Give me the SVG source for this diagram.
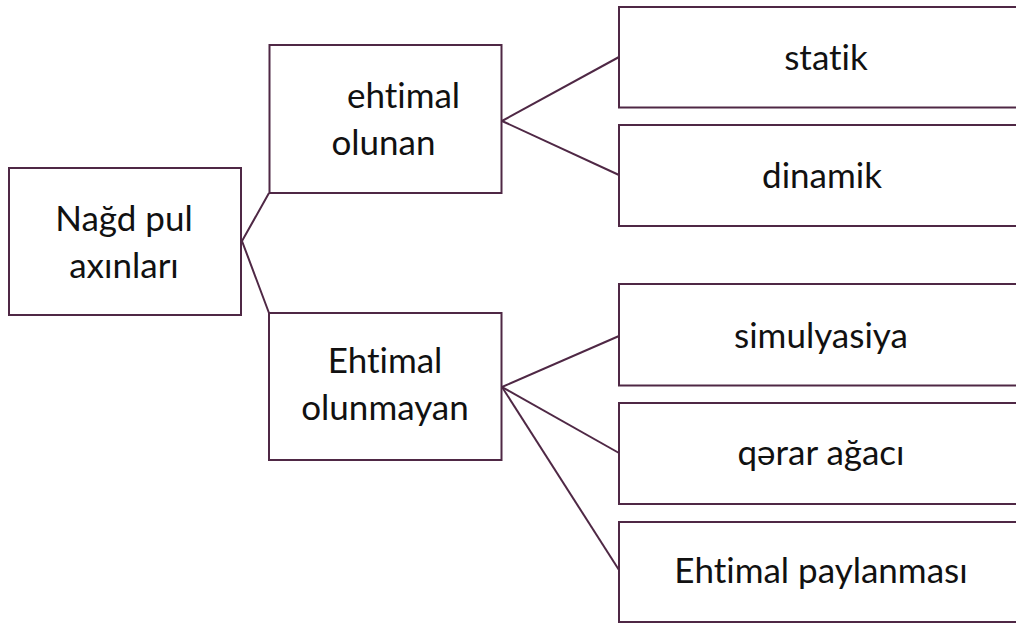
<svg xmlns="http://www.w3.org/2000/svg" width="1016" height="623" viewBox="0 0 1016 623">
<style>
.box{fill:#fff;stroke:#4f2845;stroke-width:2}
.ln{fill:none;stroke:#4f2845;stroke-width:2}
text{font-family:Lato,"Liberation Sans",sans-serif;font-size:35px;fill:#111;text-anchor:middle;font-variant-ligatures:none;font-feature-settings:"liga" 0,"clig" 0,"dlig" 0}
</style>
<rect width="1016" height="623" fill="#fff"/>
<g id="connectors">
<polyline class="ln" points="269,193 242,241 269,313"/>
<line class="ln" x1="502" y1="121" x2="619" y2="57"/>
<line class="ln" x1="502" y1="121" x2="619" y2="175"/>
<line class="ln" x1="502" y1="387" x2="619" y2="336"/>
<line class="ln" x1="502" y1="387" x2="619" y2="453"/>
<line class="ln" x1="502" y1="387" x2="619" y2="570"/>
</g>
<g id="root">
<rect class="box" x="9" y="168" width="232" height="147"/>
<text x="124" y="231">Nağd pul</text>
<text x="124" y="278">axınları</text>
</g>
<g id="n-ehtimal-olunan">
<rect class="box" x="269.5" y="45" width="232" height="148"/>
<text x="403.5" y="108">ehtimal</text>
<text x="383.5" y="155">olunan</text>
</g>
<g id="n-ehtimal-olunmayan">
<rect class="box" x="269" y="313" width="232.5" height="147"/>
<text x="385" y="373">Ehtimal</text>
<text x="385" y="420">olunmayan</text>
</g>
<g id="n-statik">
<rect class="box" x="619" y="7" width="420" height="100.5"/>
<text x="826" y="70">statik</text>
</g>
<g id="n-dinamik">
<rect class="box" x="619" y="125" width="420" height="101"/>
<text x="822" y="188">dinamik</text>
</g>
<g id="n-simulyasiya">
<rect class="box" x="619" y="284" width="420" height="101.5"/>
<text x="821" y="348">simulyasiya</text>
</g>
<g id="n-qerar">
<rect class="box" x="619" y="403" width="420" height="101"/>
<text x="821" y="465">qərar ağacı</text>
</g>
<g id="n-paylanma">
<rect class="box" x="619" y="522" width="420" height="100"/>
<text x="821" y="583">Ehtimal paylanması</text>
</g>
</svg>
